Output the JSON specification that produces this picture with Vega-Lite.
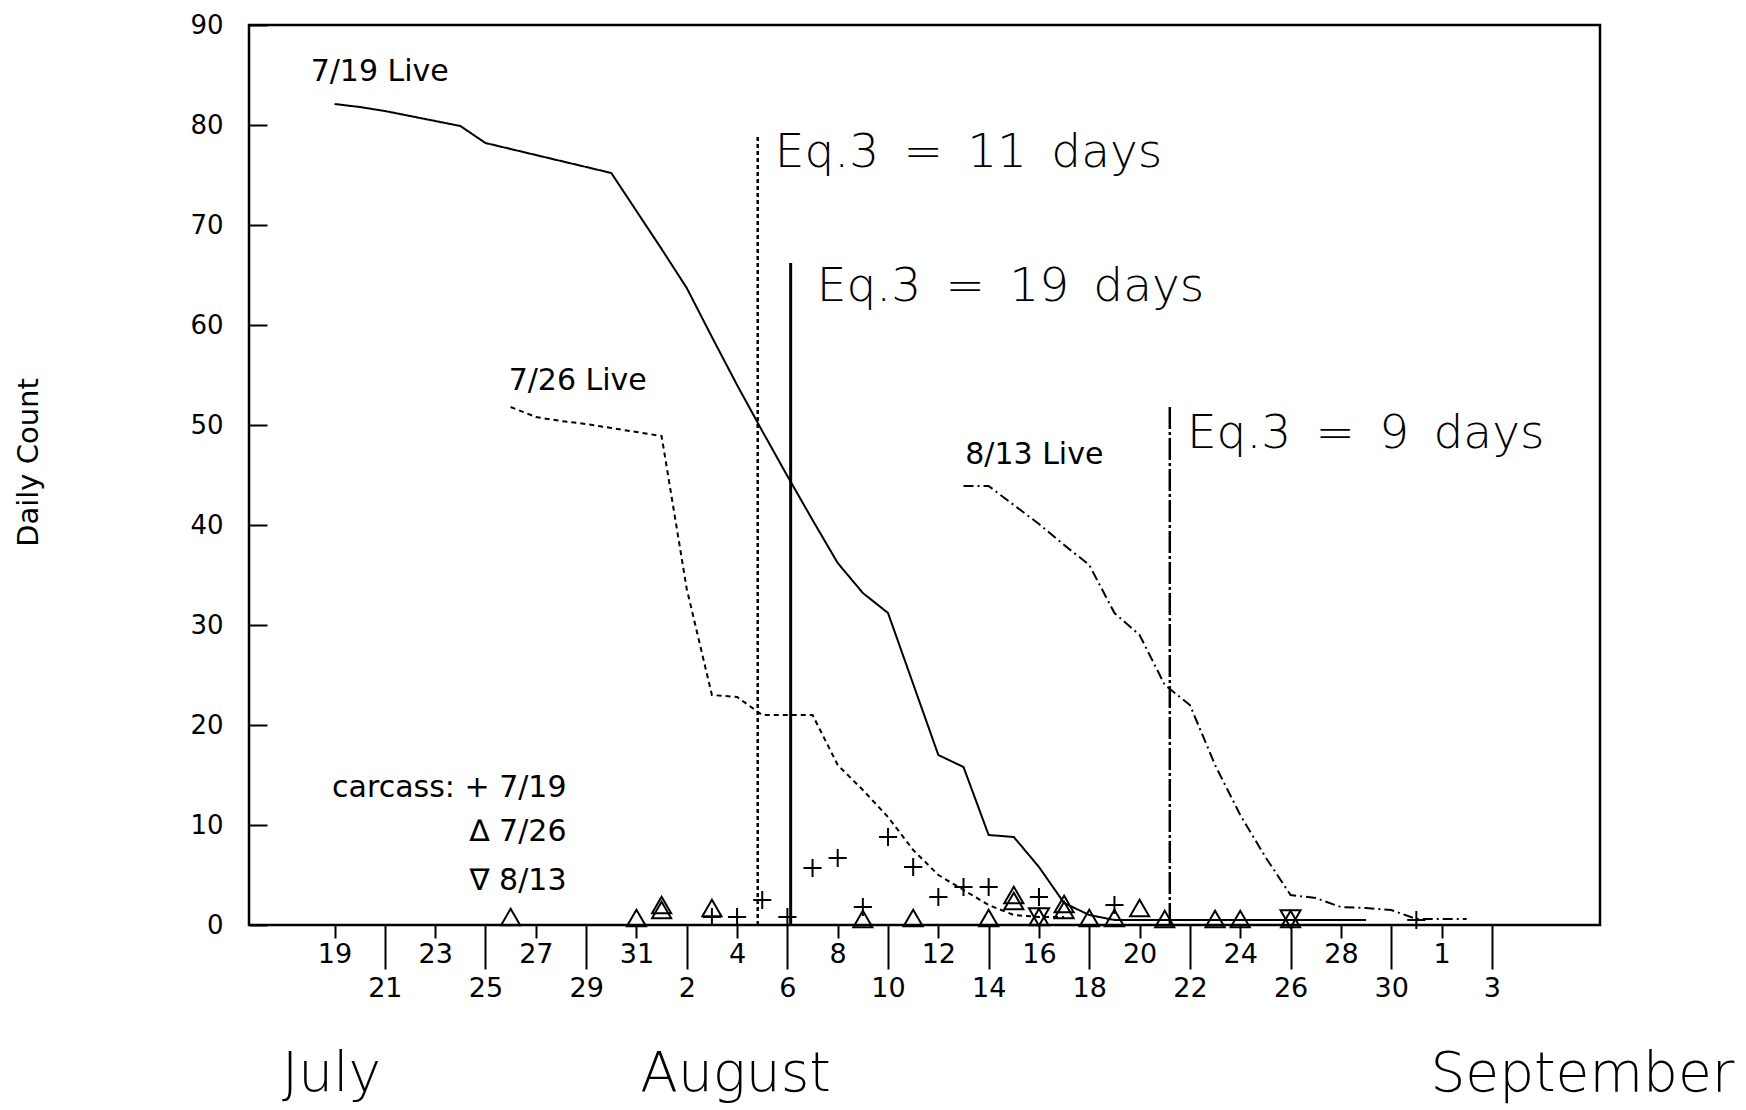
{
  "$schema": "https://vega.github.io/schema/vega-lite/v6.json",
  "width": 1351,
  "height": 900,
  "autosize": "none",
  "padding": {"left": 249, "top": 25, "right": 146, "bottom": 185},
  "background": "white",
  "config": {"view": {"stroke": "black", "strokeWidth": 2.5}, "font": "DejaVu Sans"},
  "datasets": {
    "live": [
      {"series": "7/19", "day": 19, "count": 82.1}, {"series": "7/19", "day": 20, "count": 81.8}, {"series": "7/19", "day": 21, "count": 81.4},
      {"series": "7/19", "day": 22, "count": 80.9}, {"series": "7/19", "day": 23, "count": 80.4}, {"series": "7/19", "day": 24, "count": 79.9},
      {"series": "7/19", "day": 25, "count": 78.2}, {"series": "7/19", "day": 26, "count": 77.6}, {"series": "7/19", "day": 27, "count": 77.0},
      {"series": "7/19", "day": 28, "count": 76.4}, {"series": "7/19", "day": 29, "count": 75.8}, {"series": "7/19", "day": 30, "count": 75.2},
      {"series": "7/19", "day": 31, "count": 71.4}, {"series": "7/19", "day": 32, "count": 67.6}, {"series": "7/19", "day": 33, "count": 63.7},
      {"series": "7/19", "day": 34, "count": 58.8}, {"series": "7/19", "day": 35, "count": 54.0}, {"series": "7/19", "day": 36, "count": 49.4},
      {"series": "7/19", "day": 37, "count": 44.9}, {"series": "7/19", "day": 38, "count": 40.5}, {"series": "7/19", "day": 39, "count": 36.2},
      {"series": "7/19", "day": 40, "count": 33.2}, {"series": "7/19", "day": 41, "count": 31.2}, {"series": "7/19", "day": 42, "count": 24.1},
      {"series": "7/19", "day": 43, "count": 17.0}, {"series": "7/19", "day": 44, "count": 15.8}, {"series": "7/19", "day": 45, "count": 9.0},
      {"series": "7/19", "day": 46, "count": 8.8}, {"series": "7/19", "day": 47, "count": 5.8}, {"series": "7/19", "day": 48, "count": 2.2},
      {"series": "7/19", "day": 49, "count": 1.0}, {"series": "7/19", "day": 50, "count": 0.5}, {"series": "7/19", "day": 52, "count": 0.5},
      {"series": "7/19", "day": 54, "count": 0.5}, {"series": "7/19", "day": 56, "count": 0.5}, {"series": "7/19", "day": 58, "count": 0.5},
      {"series": "7/19", "day": 60, "count": 0.5},
      {"series": "7/26", "day": 26, "count": 51.8}, {"series": "7/26", "day": 27, "count": 50.8}, {"series": "7/26", "day": 28, "count": 50.4},
      {"series": "7/26", "day": 29, "count": 50.1}, {"series": "7/26", "day": 30, "count": 49.7}, {"series": "7/26", "day": 31, "count": 49.3},
      {"series": "7/26", "day": 32, "count": 48.9}, {"series": "7/26", "day": 33, "count": 33.6}, {"series": "7/26", "day": 34, "count": 23.0},
      {"series": "7/26", "day": 35, "count": 22.8}, {"series": "7/26", "day": 36, "count": 21.0}, {"series": "7/26", "day": 37, "count": 21.0},
      {"series": "7/26", "day": 38, "count": 21.0}, {"series": "7/26", "day": 39, "count": 16.0}, {"series": "7/26", "day": 40, "count": 13.5},
      {"series": "7/26", "day": 41, "count": 10.8}, {"series": "7/26", "day": 42, "count": 7.5}, {"series": "7/26", "day": 43, "count": 5.0},
      {"series": "7/26", "day": 44, "count": 3.5}, {"series": "7/26", "day": 45, "count": 2.0}, {"series": "7/26", "day": 46, "count": 1.0},
      {"series": "7/26", "day": 47, "count": 0.8}, {"series": "7/26", "day": 48, "count": 0.8},
      {"series": "8/13", "day": 44, "count": 43.9}, {"series": "8/13", "day": 45, "count": 43.9}, {"series": "8/13", "day": 46, "count": 42.0},
      {"series": "8/13", "day": 47, "count": 40.1}, {"series": "8/13", "day": 48, "count": 38.0}, {"series": "8/13", "day": 49, "count": 36.0},
      {"series": "8/13", "day": 50, "count": 31.2}, {"series": "8/13", "day": 51, "count": 29.0}, {"series": "8/13", "day": 52, "count": 24.0},
      {"series": "8/13", "day": 53, "count": 22.0}, {"series": "8/13", "day": 54, "count": 16.0}, {"series": "8/13", "day": 55, "count": 11.0},
      {"series": "8/13", "day": 56, "count": 6.8}, {"series": "8/13", "day": 57, "count": 3.0}, {"series": "8/13", "day": 58, "count": 2.7},
      {"series": "8/13", "day": 59, "count": 1.8}, {"series": "8/13", "day": 60, "count": 1.7}, {"series": "8/13", "day": 61, "count": 1.5},
      {"series": "8/13", "day": 62, "count": 0.6}, {"series": "8/13", "day": 63, "count": 0.6}, {"series": "8/13", "day": 64, "count": 0.6}
    ],
    "carcass": [
      {"kind": "7/19", "day": 34, "count": 0.8}, {"kind": "7/19", "day": 35, "count": 0.8}, {"kind": "7/19", "day": 36, "count": 2.5},
      {"kind": "7/19", "day": 37, "count": 0.8}, {"kind": "7/19", "day": 38, "count": 5.7}, {"kind": "7/19", "day": 39, "count": 6.7},
      {"kind": "7/19", "day": 40, "count": 1.8}, {"kind": "7/19", "day": 41, "count": 8.8}, {"kind": "7/19", "day": 42, "count": 5.8},
      {"kind": "7/19", "day": 43, "count": 2.8}, {"kind": "7/19", "day": 44, "count": 3.8}, {"kind": "7/19", "day": 45, "count": 3.8},
      {"kind": "7/19", "day": 47, "count": 2.8}, {"kind": "7/19", "day": 50, "count": 2.0}, {"kind": "7/19", "day": 62, "count": 0.5},
      {"kind": "7/26", "day": 26, "count": 0.8}, {"kind": "7/26", "day": 31, "count": 0.7}, {"kind": "7/26", "day": 32, "count": 1.5},
      {"kind": "7/26", "day": 32, "count": 2.0}, {"kind": "7/26", "day": 34, "count": 1.7}, {"kind": "7/26", "day": 40, "count": 0.6},
      {"kind": "7/26", "day": 42, "count": 0.7}, {"kind": "7/26", "day": 45, "count": 0.7}, {"kind": "7/26", "day": 46, "count": 2.4},
      {"kind": "7/26", "day": 46, "count": 3.0}, {"kind": "7/26", "day": 47, "count": 0.8}, {"kind": "7/26", "day": 48, "count": 1.5},
      {"kind": "7/26", "day": 48, "count": 2.1}, {"kind": "7/26", "day": 49, "count": 0.7}, {"kind": "7/26", "day": 50, "count": 0.7},
      {"kind": "7/26", "day": 51, "count": 1.7}, {"kind": "7/26", "day": 52, "count": 0.6}, {"kind": "7/26", "day": 54, "count": 0.6},
      {"kind": "7/26", "day": 55, "count": 0.6}, {"kind": "7/26", "day": 57, "count": 0.6},
      {"kind": "8/13", "day": 47, "count": 0.8}, {"kind": "8/13", "day": 57, "count": 0.6}
    ],
    "refs": [
      {"eq": "11", "day": 35.82, "base": 0, "count": 78.8},
      {"eq": "19", "day": 37.13, "base": 0, "count": 66.2},
      {"eq": "9", "day": 52.2, "base": 0, "count": 51.8}
    ]
  },
  "layer": [
    {
      "data": {"name": "live"},
      "mark": {"type": "line", "color": "black", "strokeWidth": 2},
      "encoding": {
        "x": {
          "field": "day", "type": "quantitative",
          "scale": {"domain": [15.6, 69.3], "nice": false, "zero": false},
          "axis": {
            "values": [19, 21, 23, 25, 27, 29, 31, 33, 35, 37, 39, 41, 43, 45, 47, 49, 51, 53, 55, 57, 59, 61, 63, 65],
            "labelExpr": "datum.value > 62 ? datum.value - 62 : (datum.value > 31 ? datum.value - 31 : datum.value)",
            "tickSize": {"condition": {"test": "(datum.value - 19) % 4 == 0", "value": 13}, "value": 44},
            "labelPadding": {"condition": {"test": "(datum.value - 19) % 4 == 0", "value": 3}, "value": 6},
            "labelBaseline": "top",
            "labelFontSize": 27, "labelColor": "black", "labelFont": "DejaVu Sans",
            "tickColor": "black", "tickWidth": 2, "domain": false, "grid": false, "title": null,
            "labelFlush": false, "labelOverlap": false
          }
        },
        "y": {
          "field": "count", "type": "quantitative",
          "scale": {"domain": [0, 90], "nice": false},
          "axis": {
            "values": [0, 10, 20, 30, 40, 50, 60, 70, 80, 90],
            "tickSize": -18, "tickWidth": 2, "tickColor": "black",
            "labelPadding": 44, "labelFontSize": 26, "labelColor": "black", "labelFont": "DejaVu Sans",
            "domain": false, "grid": false, "labelFlush": false,
            "title": "Daily Count", "titleFont": "DejaVu Sans", "titleFontSize": 29, "titleFontWeight": "normal",
            "titleColor": "black", "titleX": -221, "titleY": 437, "titleAngle": -90,
            "titleAlign": "center", "titleBaseline": "middle"
          }
        },
        "strokeDash": {
          "field": "series", "type": "nominal",
          "scale": {"domain": ["7/19", "7/26", "8/13"], "range": [[1, 0], [5, 4], [10, 4, 2, 4]]},
          "legend": null
        }
      }
    },
    {
      "data": {"name": "refs"},
      "transform": [{"filter": "datum.eq == '11'"}],
      "mark": {"type": "rule", "color": "black", "strokeWidth": 2.5, "strokeDash": [4, 3]},
      "encoding": {"x": {"field": "day", "type": "quantitative"}, "y": {"field": "base", "type": "quantitative"}, "y2": {"field": "count"}}
    },
    {
      "data": {"name": "refs"},
      "transform": [{"filter": "datum.eq == '19'"}],
      "mark": {"type": "rule", "color": "black", "strokeWidth": 3},
      "encoding": {"x": {"field": "day", "type": "quantitative"}, "y": {"field": "base", "type": "quantitative"}, "y2": {"field": "count"}}
    },
    {
      "data": {"name": "refs"},
      "transform": [{"filter": "datum.eq == '9'"}],
      "mark": {"type": "rule", "color": "black", "strokeWidth": 2.5, "strokeDash": [22, 3, 3, 3]},
      "encoding": {"x": {"field": "day", "type": "quantitative"}, "y": {"field": "base", "type": "quantitative"}, "y2": {"field": "count"}}
    },
    {
      "data": {"name": "carcass"},
      "mark": {"type": "point", "filled": false, "stroke": "black", "strokeWidth": 2, "opacity": 1},
      "encoding": {
        "x": {"field": "day", "type": "quantitative"},
        "y": {"field": "count", "type": "quantitative"},
        "shape": {
          "field": "kind", "type": "nominal",
          "scale": {"domain": ["7/19", "7/26", "8/13"], "range": ["M-1,0H1M0,-1V1", "triangle-up", "triangle-down"]},
          "legend": null
        },
        "size": {
          "field": "kind", "type": "nominal",
          "scale": {"domain": ["7/19", "7/26", "8/13"], "range": [330, 400, 400]},
          "legend": null
        }
      }
    },
    {
      "data": {"values": [
        {"label": "7/19 Live", "day": 18.05, "count": 84.4},
        {"label": "7/26 Live", "day": 25.92, "count": 53.5},
        {"label": "8/13 Live", "day": 44.07, "count": 46.1}
      ]},
      "mark": {"type": "text", "align": "left", "baseline": "alphabetic", "fontSize": 30, "font": "DejaVu Sans", "color": "black"},
      "encoding": {"x": {"field": "day", "type": "quantitative"}, "y": {"field": "count", "type": "quantitative"}, "text": {"field": "label", "type": "nominal"}}
    },
    {
      "data": {"values": [
        {"label": "Eq.3 \u2009= \u200911 \u2009days", "day": 36.5, "count": 75.8},
        {"label": "Eq.3 \u2009= \u200919 \u2009days", "day": 38.17, "count": 62.4},
        {"label": "Eq.3 \u2009= \u20099 \u2009days", "day": 52.88, "count": 47.7}
      ]},
      "mark": {"type": "text", "align": "left", "baseline": "alphabetic", "fontSize": 47, "font": "DejaVu Sans", "fontWeight": 200, "color": "black"},
      "encoding": {"x": {"field": "day", "type": "quantitative"}, "y": {"field": "count", "type": "quantitative"}, "text": {"field": "label", "type": "nominal"}}
    },
    {
      "data": {"values": [
        {"label": "carcass: + 7/19", "day": 28.22, "count": 12.8},
        {"label": "∆ 7/26", "day": 28.22, "count": 8.4},
        {"label": "∇ 8/13", "day": 28.22, "count": 3.5}
      ]},
      "mark": {"type": "text", "align": "right", "baseline": "alphabetic", "fontSize": 30, "font": "DejaVu Sans", "color": "black"},
      "encoding": {"x": {"field": "day", "type": "quantitative"}, "y": {"field": "count", "type": "quantitative"}, "text": {"field": "label", "type": "nominal"}}
    },
    {
      "data": {"values": [
        {"label": "July", "day": 18.88, "count": -16.6},
        {"label": "August", "day": 34.94, "count": -16.6},
        {"label": "September", "day": 68.6, "count": -16.6}
      ]},
      "mark": {"type": "text", "align": "center", "baseline": "alphabetic", "fontSize": 55, "font": "DejaVu Sans", "fontWeight": 200, "color": "black"},
      "encoding": {"x": {"field": "day", "type": "quantitative"}, "y": {"field": "count", "type": "quantitative"}, "text": {"field": "label", "type": "nominal"}}
    }
  ]
}
